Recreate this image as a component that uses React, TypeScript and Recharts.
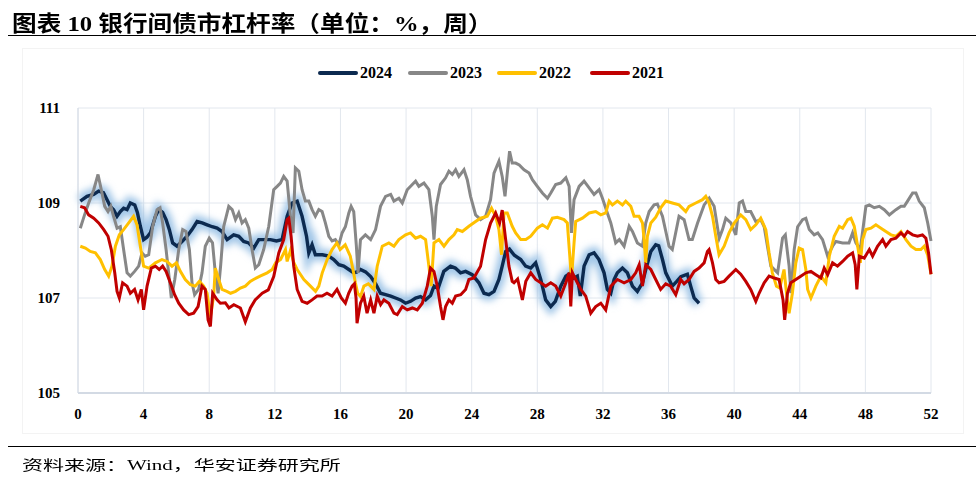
import React from 'react';
import { LineChart, Line, XAxis, YAxis, CartesianGrid } from 'recharts';

type Pt = [number, number];

// week ticks and rate ticks
const weekTicks = [0, 4, 8, 12, 16, 20, 24, 28, 32, 36, 40, 44, 48, 52];
const rateTicks = [105, 107, 109, 111];

// 2024 (partial year)
const y2024: Pt[] = [
  [0.14, 109.04], [0.55, 109.14], [0.95, 109.18], [1.26, 109.25], [1.55, 109.22], [1.77, 109.07],
  [1.97, 108.93], [2.17, 108.86], [2.38, 108.72], [2.58, 108.82], [2.78, 108.89], [2.99, 108.86],
  [3.19, 109.0], [3.46, 108.96], [3.62, 108.8], [3.8, 108.51], [4.0, 108.23], [4.2, 108.28],
  [4.41, 108.37], [4.72, 108.72], [4.92, 108.86], [5.16, 108.8], [5.37, 108.65], [5.57, 108.44],
  [5.77, 108.16], [6.04, 108.09], [6.34, 108.19], [6.65, 108.3], [6.95, 108.44], [7.26, 108.61],
  [7.57, 108.58], [7.87, 108.54], [8.18, 108.5], [8.48, 108.47], [8.78, 108.4], [9.09, 108.23],
  [9.49, 108.33], [9.8, 108.3], [10.1, 108.19], [10.4, 108.16], [10.71, 108.05], [11.02, 108.23],
  [11.4, 108.23], [11.73, 108.23], [12.1, 108.2], [12.44, 108.23], [12.75, 108.72], [13.05, 109.0],
  [13.36, 109.04], [13.66, 108.72], [13.93, 108.3], [14.07, 107.95], [14.27, 108.12], [14.47, 107.91],
  [14.9, 107.91], [15.29, 107.88], [15.59, 107.81], [15.9, 107.7], [16.2, 107.67], [16.51, 107.6],
  [16.81, 107.53], [17.0, 107.55], [17.22, 107.6], [17.53, 107.55], [17.84, 107.45], [18.14, 107.3],
  [18.44, 107.1], [18.75, 107.07], [19.06, 107.04], [19.36, 107.0], [19.66, 106.96], [19.97, 106.89],
  [20.27, 106.93], [20.58, 107.0], [20.88, 107.03], [21.19, 106.96], [21.49, 107.05], [21.7, 107.25],
  [21.95, 107.2], [22.3, 107.56], [22.71, 107.67], [23.0, 107.63], [23.32, 107.53], [23.63, 107.56],
  [24.03, 107.49], [24.44, 107.32], [24.75, 107.1], [25.05, 107.07], [25.36, 107.14], [25.66, 107.39],
  [25.86, 107.67], [26.07, 107.98], [26.3, 108.03], [26.6, 107.9], [26.99, 107.81], [27.29, 107.67],
  [27.6, 107.63], [27.9, 107.74], [28.21, 107.39], [28.51, 106.96], [28.82, 106.82], [29.1, 106.93],
  [29.43, 107.25], [29.74, 107.46], [30.04, 107.53], [30.24, 107.42], [30.44, 107.46], [30.62, 107.04],
  [30.85, 107.67], [31.16, 107.91], [31.46, 107.95], [31.76, 107.81], [32.07, 107.53], [32.27, 107.18],
  [32.48, 107.1], [32.68, 107.39], [32.88, 107.53], [33.19, 107.63], [33.49, 107.53], [33.8, 107.25],
  [34.1, 107.14], [34.41, 107.32], [34.61, 107.6], [34.92, 107.98], [35.22, 108.12], [35.4, 108.1],
  [35.63, 107.81], [35.83, 107.53], [36.23, 107.25], [36.5, 107.35], [36.75, 107.45], [37.15, 107.5],
  [37.35, 107.25], [37.56, 107.0], [37.86, 106.89],
];

// 2023
const y2023: Pt[] = [
  [0.14, 108.47], [0.4, 108.75], [0.65, 109.0], [0.96, 109.28], [1.22, 109.6], [1.42, 109.28],
  [1.63, 108.93], [1.83, 108.82], [2.0, 108.93], [2.17, 108.72], [2.38, 108.47], [2.58, 108.5],
  [2.78, 108.02], [2.99, 107.53], [3.19, 107.46], [3.45, 107.56], [3.7, 107.67], [3.9, 107.95],
  [4.1, 107.88], [4.31, 107.91], [4.55, 108.51], [4.82, 108.86], [5.0, 108.9], [5.16, 108.58],
  [5.37, 108.02], [5.57, 107.39], [5.69, 107.0], [5.9, 107.39], [6.14, 108.02], [6.38, 108.44],
  [6.58, 108.4], [6.79, 108.02], [6.95, 107.32], [7.11, 107.07], [7.35, 107.18], [7.56, 107.53],
  [7.76, 108.09], [8.0, 108.26], [8.2, 108.16], [8.37, 107.53], [8.54, 107.1], [8.7, 107.7],
  [8.88, 108.5], [9.19, 108.93], [9.4, 108.86], [9.6, 108.65], [9.8, 108.79], [10.0, 108.58],
  [10.2, 108.65], [10.41, 108.47], [10.61, 108.02], [10.81, 107.63], [11.02, 107.7], [11.32, 108.02],
  [11.63, 108.51], [11.93, 109.28], [12.14, 109.35], [12.34, 109.42], [12.54, 109.56], [12.75, 109.46],
  [12.95, 108.72], [13.11, 108.37], [13.25, 109.74], [13.46, 109.67], [13.66, 109.28], [13.86, 109.04],
  [14.07, 109.04], [14.27, 108.86], [14.47, 108.72], [14.68, 108.86], [14.88, 108.82], [15.08, 108.58],
  [15.29, 108.3], [15.49, 108.2], [15.69, 108.23], [15.9, 108.12], [16.1, 108.37], [16.3, 108.5],
  [16.51, 108.79], [16.65, 108.93], [16.81, 108.82], [16.97, 108.09], [17.07, 107.53], [17.22, 108.23],
  [17.52, 108.33], [17.84, 108.23], [18.14, 108.44], [18.44, 108.93], [18.75, 109.14], [19.06, 109.18],
  [19.26, 109.04], [19.56, 109.1], [19.77, 109.0], [20.07, 109.28], [20.38, 109.39], [20.58, 109.46],
  [20.78, 109.35], [21.09, 109.42], [21.39, 109.28], [21.6, 108.72], [21.7, 108.23], [21.84, 108.93],
  [22.1, 109.39], [22.41, 109.53], [22.61, 109.67], [22.82, 109.6], [23.02, 109.7], [23.22, 109.56],
  [23.53, 109.7], [23.73, 109.49], [23.93, 109.14], [24.24, 108.75], [24.54, 108.65], [24.85, 108.72],
  [25.15, 109.07], [25.36, 109.63], [25.66, 109.88], [25.86, 109.56], [26.03, 109.14], [26.17, 109.63],
  [26.31, 110.09], [26.47, 109.84], [26.68, 109.84], [26.9, 109.8], [27.19, 109.7], [27.5, 109.63],
  [27.7, 109.49], [28.0, 109.35], [28.31, 109.21], [28.62, 109.1], [28.82, 109.21], [29.12, 109.39],
  [29.43, 109.42], [29.74, 109.53], [29.94, 109.35], [30.08, 108.37], [30.24, 109.07], [30.55, 109.35],
  [30.85, 109.46], [31.16, 109.32], [31.46, 109.18], [31.77, 109.28], [31.97, 109.1], [32.27, 108.79],
  [32.48, 108.58], [32.78, 108.16], [33.0, 108.23], [33.29, 108.09], [33.6, 108.51], [33.8, 108.4],
  [34.1, 108.16], [34.41, 108.09], [34.61, 108.58], [34.82, 108.82], [35.12, 108.96], [35.32, 108.98],
  [35.63, 108.72], [36.03, 108.09], [36.23, 108.02], [36.64, 108.72], [36.95, 108.65], [37.25, 108.23],
  [37.45, 108.23], [37.77, 108.58], [38.17, 108.96], [38.48, 109.1], [38.78, 108.93], [39.09, 108.26],
  [39.29, 108.44], [39.49, 108.68], [39.8, 108.58], [40.1, 108.33], [40.31, 109.0], [40.51, 109.04],
  [40.71, 108.82], [41.01, 108.82], [41.32, 108.61], [41.62, 108.65], [41.83, 108.5], [42.03, 108.09],
  [42.24, 107.67], [42.65, 107.53], [42.95, 108.26], [43.12, 108.33], [43.35, 107.67], [43.46, 107.1],
  [43.66, 108.02], [43.87, 108.5], [44.17, 108.65], [44.37, 108.68], [44.58, 108.44], [44.88, 108.33],
  [45.1, 108.37], [45.39, 108.23], [45.7, 107.88], [46.0, 108.09], [46.2, 108.19], [46.61, 108.16],
  [47.0, 108.16], [47.22, 108.37], [47.42, 108.16], [47.69, 108.02], [48.03, 108.93], [48.24, 108.96],
  [48.54, 108.9], [48.85, 108.93], [49.15, 108.86], [49.46, 108.75], [49.86, 108.86], [50.17, 108.93],
  [50.37, 108.93], [50.57, 109.04], [50.88, 109.21], [51.08, 109.21], [51.28, 109.04], [51.59, 108.9],
  [51.8, 108.58], [52.0, 108.2],
];

// 2022
const y2022: Pt[] = [
  [0.14, 108.09], [0.45, 108.05], [0.75, 107.98], [1.06, 107.95], [1.36, 107.81], [1.63, 107.6],
  [1.87, 107.46], [2.07, 107.67], [2.28, 108.09], [2.52, 108.33], [2.78, 108.44], [3.09, 108.58],
  [3.39, 108.72], [3.6, 108.54], [3.8, 108.09], [4.0, 107.67], [4.31, 107.63], [4.72, 107.74],
  [5.12, 107.81], [5.43, 107.77], [5.73, 107.67], [6.0, 107.74], [6.24, 107.56], [6.54, 107.39],
  [6.85, 107.28], [7.15, 107.25], [7.4, 107.35], [7.66, 107.25], [7.87, 107.1], [8.07, 106.61],
  [8.27, 107.04], [8.37, 107.63], [8.58, 107.39], [8.78, 107.18], [9.07, 107.14], [9.3, 107.1],
  [9.6, 107.14], [9.9, 107.21], [10.2, 107.25], [10.5, 107.35], [10.7, 107.39], [11.1, 107.46],
  [11.53, 107.53], [11.84, 107.6], [12.05, 107.74], [12.35, 107.81], [12.65, 108.02], [12.75, 107.77],
  [12.95, 108.0], [13.15, 107.75], [13.36, 107.6], [13.77, 107.39], [14.17, 107.25], [14.48, 107.14],
  [14.68, 107.25], [14.89, 107.53], [15.19, 107.81], [15.49, 108.02], [15.78, 108.16], [15.98, 108.02],
  [16.29, 108.12], [16.6, 107.88], [16.8, 107.53], [16.91, 107.32], [17.05, 107.1], [17.22, 107.03],
  [17.43, 107.25], [17.7, 107.3], [17.84, 107.25], [18.04, 107.18], [18.24, 107.67], [18.55, 108.09],
  [18.95, 108.16], [19.26, 108.09], [19.56, 108.23], [19.97, 108.33], [20.27, 108.37], [20.58, 108.26],
  [20.88, 108.3], [21.19, 108.23], [21.39, 107.67], [21.53, 107.25], [21.7, 108.16], [22.0, 108.23],
  [22.31, 108.09], [22.61, 108.23], [22.92, 108.33], [23.12, 108.44], [23.43, 108.4], [23.83, 108.51],
  [24.24, 108.61], [24.54, 108.68], [24.95, 108.72], [25.21, 108.89], [25.46, 108.72], [25.66, 108.44],
  [25.82, 107.91], [25.97, 108.79], [26.17, 108.79], [26.47, 108.51], [26.68, 108.37], [26.99, 108.23],
  [27.3, 108.23], [27.6, 108.3], [28.0, 108.47], [28.31, 108.54], [28.62, 108.47], [28.92, 108.68],
  [29.22, 108.7], [29.63, 108.65], [29.83, 108.58], [29.98, 107.88], [30.08, 107.39], [30.24, 108.16],
  [30.34, 108.61], [30.75, 108.68], [31.16, 108.79], [31.56, 108.82], [31.87, 108.75], [32.17, 108.79],
  [32.38, 109.04], [32.58, 108.96], [32.88, 109.04], [33.19, 108.96], [33.39, 109.04], [33.7, 108.93],
  [33.9, 108.72], [34.2, 108.72], [34.41, 108.58], [34.51, 108.23], [34.61, 107.74], [34.71, 108.3],
  [34.92, 108.58], [35.22, 108.7], [35.52, 108.9], [35.83, 109.04], [36.23, 109.0], [36.64, 108.96],
  [37.05, 108.82], [37.25, 108.93], [37.66, 109.0], [38.07, 109.07], [38.27, 109.14], [38.47, 109.0],
  [38.68, 108.72], [38.88, 108.3], [39.08, 107.91], [39.39, 108.09], [39.69, 108.37], [40.0, 108.58],
  [40.4, 108.75], [40.71, 108.65], [41.01, 108.44], [41.32, 108.54], [41.62, 108.68], [41.93, 108.44],
  [42.13, 107.95], [42.33, 107.53], [42.58, 107.25], [42.78, 107.21], [43.04, 107.6], [43.21, 107.04],
  [43.35, 106.68], [43.55, 107.1], [43.76, 107.74], [43.96, 108.05], [44.17, 108.02], [44.37, 107.6],
  [44.48, 107.18], [44.68, 107.0], [44.98, 107.25], [45.29, 107.46], [45.59, 107.32], [45.8, 107.88],
  [46.1, 108.3], [46.41, 108.51], [46.61, 108.47], [46.92, 108.65], [47.12, 108.68], [47.32, 108.51],
  [47.53, 108.09], [47.69, 107.74], [47.83, 108.23], [48.03, 108.44], [48.34, 108.47], [48.64, 108.54],
  [48.95, 108.47], [49.25, 108.4], [49.56, 108.33], [49.86, 108.3], [50.17, 108.4], [50.47, 108.23],
  [50.78, 108.09], [51.08, 108.02], [51.38, 108.02], [51.59, 108.09], [51.8, 107.9], [52.0, 107.5],
];

// 2021
const y2021: Pt[] = [
  [0.14, 108.93], [0.4, 108.9], [0.65, 108.75], [0.96, 108.68], [1.26, 108.58], [1.57, 108.44],
  [1.83, 108.3], [2.03, 108.02], [2.24, 107.53], [2.38, 107.14], [2.52, 107.0], [2.72, 107.32],
  [2.99, 107.25], [3.19, 107.1], [3.45, 107.18], [3.66, 106.96], [3.86, 107.18], [4.0, 106.75],
  [4.21, 107.25], [4.47, 107.63], [4.72, 107.67], [4.95, 107.6], [5.16, 107.67], [5.37, 107.56],
  [5.63, 107.32], [5.89, 107.07], [6.14, 106.89], [6.44, 106.75], [6.75, 106.65], [7.05, 106.68],
  [7.32, 106.82], [7.56, 107.25], [7.76, 107.18], [7.93, 106.54], [8.07, 106.4], [8.21, 107.1],
  [8.48, 106.96], [8.68, 106.89], [8.98, 106.9], [9.2, 106.79], [9.5, 106.86], [9.9, 106.79],
  [10.2, 106.5], [10.51, 106.79], [10.8, 106.96], [11.23, 107.1], [11.6, 107.17], [11.93, 107.45],
  [12.24, 107.95], [12.54, 108.23], [12.75, 108.65], [12.85, 108.68], [12.99, 108.3], [13.15, 107.67],
  [13.36, 107.18], [13.66, 106.93], [13.97, 106.89], [14.27, 106.96], [14.57, 107.04], [14.88, 107.04],
  [15.18, 107.1], [15.49, 107.04], [15.79, 107.18], [16.05, 107.0], [16.3, 106.89], [16.5, 107.1],
  [16.71, 107.25], [16.85, 107.3], [16.95, 107.0], [17.01, 106.47], [17.22, 106.89], [17.42, 107.04],
  [17.62, 106.68], [17.84, 106.96], [18.04, 106.68], [18.24, 107.04], [18.45, 106.86], [18.65, 106.96],
  [18.95, 106.89], [19.26, 106.68], [19.46, 106.65], [19.77, 106.82], [20.07, 106.75], [20.38, 106.79],
  [20.68, 106.75], [20.99, 106.89], [21.29, 107.25], [21.49, 107.63], [21.7, 107.56], [21.9, 107.25],
  [22.1, 106.82], [22.25, 106.54], [22.41, 106.82], [22.61, 106.96], [22.82, 106.89], [23.02, 107.04],
  [23.33, 107.07], [23.63, 107.18], [23.83, 107.39], [24.13, 107.42], [24.54, 107.67], [24.85, 108.23],
  [25.15, 108.58], [25.46, 108.79], [25.7, 108.58], [25.86, 108.85], [26.07, 108.23], [26.27, 107.67],
  [26.47, 107.35], [26.58, 107.32], [26.8, 107.4], [27.09, 106.96], [27.3, 107.35], [27.6, 107.53],
  [27.9, 107.39], [28.21, 107.32], [28.51, 107.25], [28.82, 107.32], [29.12, 107.25], [29.43, 107.04],
  [29.74, 107.32], [29.94, 107.53], [30.04, 106.82], [30.14, 107.53], [30.34, 107.39], [30.65, 107.18],
  [30.95, 107.04], [31.26, 106.68], [31.56, 106.82], [31.87, 106.89], [32.17, 106.75], [32.48, 107.25],
  [32.88, 107.39], [33.29, 107.32], [33.7, 107.39], [34.0, 107.53], [34.21, 107.7], [34.41, 107.25],
  [34.61, 107.7], [34.92, 107.6], [35.22, 107.39], [35.52, 107.18], [35.83, 107.3], [36.13, 107.25],
  [36.44, 107.07], [36.74, 107.39], [36.95, 107.3], [37.25, 107.39], [37.56, 107.56], [37.86, 107.63],
  [38.17, 107.74], [38.37, 107.98], [38.47, 108.02], [38.68, 107.74], [38.88, 107.39], [39.08, 107.32],
  [39.39, 107.35], [39.69, 107.46], [40.1, 107.6], [40.4, 107.5], [40.71, 107.35], [41.01, 107.18],
  [41.32, 106.93], [41.52, 107.1], [41.83, 107.32], [42.13, 107.46], [42.44, 107.42], [42.74, 107.39],
  [42.98, 106.96], [43.08, 106.54], [43.25, 107.1], [43.45, 107.32], [43.76, 107.39], [44.06, 107.46],
  [44.37, 107.53], [44.68, 107.56], [44.98, 107.49], [45.29, 107.42], [45.49, 107.63], [45.7, 107.49],
  [46.0, 107.74], [46.3, 107.67], [46.61, 107.77], [46.92, 107.88], [47.22, 107.95], [47.38, 107.7],
  [47.48, 107.18], [47.63, 107.88], [47.93, 107.84], [48.24, 108.02], [48.44, 107.88], [48.74, 108.09],
  [49.05, 108.23], [49.25, 108.09], [49.56, 108.23], [49.86, 108.26], [50.17, 108.37], [50.37, 108.3],
  [50.57, 108.4], [50.88, 108.33], [51.18, 108.3], [51.48, 108.33], [51.69, 108.26], [51.85, 107.95],
  [52.0, 107.5],
];

const toRows = (pts: Pt[]) => pts.map(([w, v]) => ({ w, v }));

const legendItems = [
  { name: '2024', color: '#0c2a50', left: 318 },
  { name: '2023', color: '#878787', left: 408 },
  { name: '2022', color: '#ffc000', left: 497 },
  { name: '2021', color: '#c00000', left: 590 },
];

const serif = '"Liberation Serif", "Times New Roman", "Noto Sans CJK SC", serif';

export default function App() {
  const tickStyle = { fontFamily: serif, fontSize: 15, fontWeight: 700, fill: '#000' };

  return (
    <div style={{ position: 'absolute', left: 0, top: 0, width: 980, height: 485, background: '#fff', overflow: 'hidden' }}>
      {/* blur for the 2024 halo */}
      <svg width={0} height={0} style={{ position: 'absolute' }}>
        <defs>
          <filter id="glow24" x="-5%" y="-30%" width="110%" height="160%">
            <feGaussianBlur stdDeviation="3.5" />
          </filter>
        </defs>
      </svg>

      {/* title */}
      <div style={{
        position: 'absolute', left: 12, top: 5, whiteSpace: 'nowrap',
        fontFamily: '"Liberation Serif", "Noto Sans CJK SC", serif', fontWeight: 700, fontSize: 22,
        transform: 'scaleX(1.12)', transformOrigin: 'left center', color: '#000',
      }}>
        图表 10 银行间债市杠杆率（单位：%，周）
      </div>
      <div style={{ position: 'absolute', left: 8, top: 35, width: 968, borderTop: '1.5px solid #000' }} />

      {/* faint chart frame */}
      <div style={{ position: 'absolute', left: 22, top: 48, width: 940, height: 384, border: '1px solid #f3f3f3' }} />

      {/* legend */}
      {legendItems.map((it) => (
        <div key={it.name}>
          <div style={{
            position: 'absolute', left: it.left, top: 71, width: 40, height: 4,
            borderRadius: 2, background: it.color,
          }} />
          <div style={{
            position: 'absolute', left: it.left + 42, top: 63, lineHeight: '20px',
            fontFamily: serif, fontWeight: 700, fontSize: 16, color: '#000',
          }}>
            {it.name}
          </div>
        </div>
      ))}

      <div style={{ position: 'absolute', left: 0, top: 0 }}>
        <LineChart width={980} height={430} margin={{ top: 108, right: 49, left: 18, bottom: 7 }}>
          <CartesianGrid stroke="#e2e7ee" strokeWidth={1} />
          <XAxis
            dataKey="w"
            type="number"
            domain={[0, 52]}
            ticks={weekTicks}
            interval={0}
            height={30}
            tickLine={false}
            tickMargin={9}
            axisLine={{ stroke: '#d3dae4', strokeWidth: 2 }}
            tick={tickStyle}
          />
          <YAxis
            type="number"
            domain={[105, 111]}
            ticks={rateTicks}
            interval={0}
            width={60}
            tickLine={false}
            tickMargin={12}
            axisLine={{ stroke: '#d3dae4', strokeWidth: 1 }}
            tick={tickStyle}
          />
          <Line
            data={toRows(y2024)}
            dataKey="v"
            type="linear"
            stroke="#8fbbe3"
            strokeWidth={12}
            strokeOpacity={0.85}
            filter="url(#glow24)"
            dot={false}
            activeDot={false}
            isAnimationActive={false}
          />
          <Line data={toRows(y2024)} dataKey="v" type="linear" stroke="#0c2a50" strokeWidth={3.4} dot={false} activeDot={false} isAnimationActive={false} />
          <Line data={toRows(y2023)} dataKey="v" type="linear" stroke="#878787" strokeWidth={3} dot={false} activeDot={false} isAnimationActive={false} />
          <Line data={toRows(y2022)} dataKey="v" type="linear" stroke="#ffc000" strokeWidth={3} dot={false} activeDot={false} isAnimationActive={false} />
          <Line data={toRows(y2021)} dataKey="v" type="linear" stroke="#c00000" strokeWidth={3} dot={false} activeDot={false} isAnimationActive={false} />
        </LineChart>
      </div>

      <div style={{ position: 'absolute', left: 8, top: 446, width: 968, borderTop: '1.5px solid #000' }} />
      <div style={{
        position: 'absolute', left: 22, top: 456, whiteSpace: 'nowrap', lineHeight: '20px',
        fontFamily: '"Liberation Serif", "Noto Sans CJK SC", serif', fontSize: 14, color: '#000',
        transform: 'scaleX(1.5)', transformOrigin: 'left center',
      }}>
        资料来源：Wind，华安证券研究所
      </div>
    </div>
  );
}
